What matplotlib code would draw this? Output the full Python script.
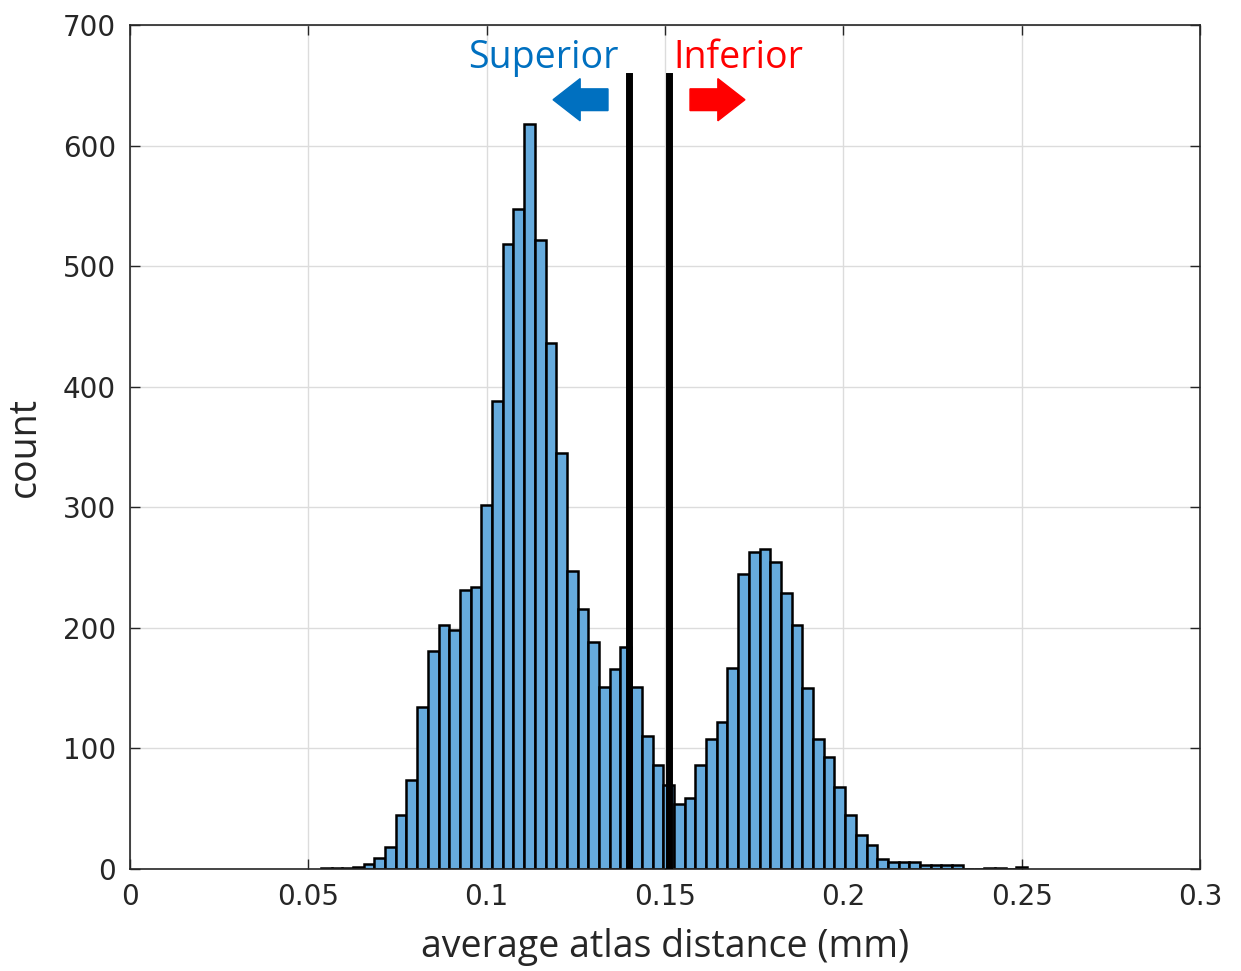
import numpy as np
import matplotlib
matplotlib.use('Agg')
import matplotlib.pyplot as plt
import matplotlib.patches as mpatches

# histogram counts, bin width 0.003 mm
bin_start = 0.0535
bin_width = 0.003
counts = [1, 1, 1, 2, 4, 9, 18, 45, 74, 134, 181, 202, 198, 231, 234, 302,
          388, 518, 547, 618, 522, 436, 345, 247, 216, 188, 151, 166, 184, 151,
          110, 86, 70, 54, 59, 86, 108, 122, 167, 245, 263, 265, 255, 229, 202,
          150, 108, 93, 68, 45, 28, 20, 8, 6, 6, 6, 3, 3, 3, 3, 0, 0, 1, 1, 0, 2]
thresholds = [0.1399, 0.1511]
xticks = [0, 0.05, 0.1, 0.15, 0.2, 0.25, 0.3]
xtick_labels = ['0', '0.05', '0.1', '0.15', '0.2', '0.25', '0.3']
yticks = [0, 100, 200, 300, 400, 500, 600, 700]

edges = bin_start + bin_width * np.arange(len(counts) + 1)
centers = (edges[:-1] + edges[1:]) / 2

fig = plt.figure(figsize=(12.41, 9.71), dpi=100)
ax = fig.add_axes([0.1048, 0.105, 0.8622, 0.8693])

ax.hist(centers, bins=edges, weights=counts, color='#66ABDD',
        edgecolor='black', linewidth=1.8, zorder=2)

for t in thresholds:
    ax.plot([t, t], [0, 658], color='black', linewidth=5, zorder=3)

# direction arrows and labels
ax.add_patch(mpatches.FancyArrow(0.134, 638, -0.0154, 0, width=18, head_width=35,
                                 head_length=0.0076, length_includes_head=True,
                                 color='#0070C0', zorder=4))
ax.add_patch(mpatches.FancyArrow(0.157, 638, 0.0154, 0, width=18, head_width=35,
                                 head_length=0.0076, length_includes_head=True,
                                 color='#FF0000', zorder=4))
ax.text(0.1158, 673, 'Superior', color='#0070C0', fontsize=27,
        family='Open Sans', ha='center', va='center', zorder=4)
ax.text(0.1705, 673, 'Inferior', color='#FF0000', fontsize=27,
        family='Open Sans', ha='center', va='center', zorder=4)

ax.set_xlim(0, 0.3)
ax.set_ylim(0, 700)
ax.set_xticks(xticks)
ax.set_xticklabels(xtick_labels)
ax.set_yticks(yticks)
ax.tick_params(direction='in', top=True, right=True, length=7, width=1,
               labelsize=20, colors='#262626', pad=10)
ax.grid(True, color='#DCDCDC', linewidth=1, zorder=0)
ax.set_axisbelow(True)
for s in ax.spines.values():
    s.set_linewidth(1.2)
    s.set_color('#262626')

ax.set_xlabel('average atlas distance (mm)', fontsize=27, family='Open Sans',
              color='#262626', labelpad=12)
ax.set_ylabel('count', fontsize=27, family='Open Sans', color='#262626',
              labelpad=14)

fig.savefig('out.png', dpi=100)
